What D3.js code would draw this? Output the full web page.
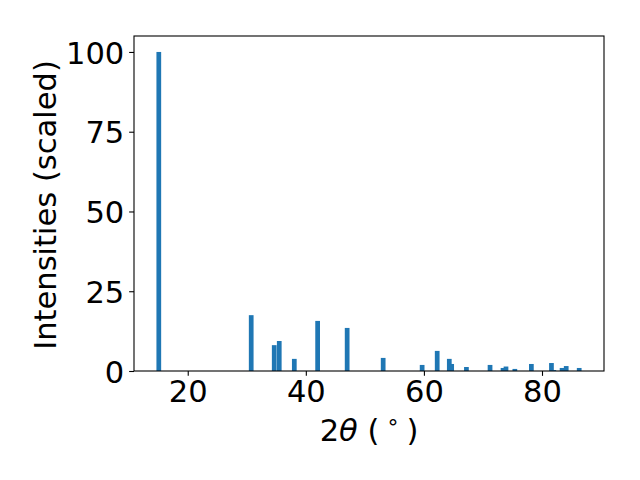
<!DOCTYPE html>
<html>
<head>
<meta charset="utf-8">
<script src="https://cdn.jsdelivr.net/npm/d3@7"></script>
<style>
  html, body { margin: 0; padding: 0; background: #fff; }
  text { font-family: "DejaVu Sans", sans-serif; }
</style>
</head>
<body>
<svg id="chart" width="640" height="480"></svg>
<script>
// Peak positions (2θ, degrees) and scaled intensities
const twoTheta = [15.1, 30.75, 34.65, 35.5, 38.05, 42.0, 47.0, 53.1, 59.7, 62.25, 64.3, 64.7,
                  67.2, 71.2, 73.4, 73.9, 75.4, 78.2, 81.6, 82.0, 83.4, 84.1, 86.3];
const intensity = [100, 17.5, 8.1, 9.4, 3.8, 15.7, 13.5, 4.1, 1.9, 6.3, 3.8, 2.2,
                   1.25, 1.9, 0.95, 1.4, 0.65, 2.2, 2.5, 0.3, 0.95, 1.55, 0.95];
const xTicks = [20, 40, 60, 80];
const yTicks = [0, 25, 50, 75, 100];
const barWidth = 0.8;

const svg = d3.select("#chart");
const mLeft = 134, mRight = 604, mTop = 36, mBottom = 371;

const x = d3.scaleLinear().domain([10.9, 90.5]).range([mLeft, mRight]);
const y = d3.scaleLinear().domain([0, 105]).range([mBottom, mTop]);

const data = twoTheta.map((t, i) => ({ t, v: intensity[i] }));

svg.append("g").selectAll("rect").data(data).join("rect")
  .attr("x", d => x(d.t - barWidth / 2))
  .attr("width", d => x(d.t + barWidth / 2) - x(d.t - barWidth / 2))
  .attr("y", d => y(d.v))
  .attr("height", d => y(0) - y(d.v))
  .attr("fill", "#1f77b4");

const fs = 30.56;
const tickLen = 4.86;

// x axis
const xAxis = svg.append("g").attr("transform", `translate(0,${mBottom})`)
  .call(d3.axisBottom(x).tickValues(xTicks).tickSize(tickLen).tickPadding(4.86).tickFormat(d3.format("d")));
xAxis.select(".domain").remove();
xAxis.selectAll("line").attr("stroke", "#000").attr("stroke-width", 1.1);
xAxis.selectAll("text").attr("font-size", fs).attr("fill", "#000")
  .attr("dy", null).attr("y", 30.5);

// y axis
const yAxis = svg.append("g").attr("transform", `translate(${mLeft},0)`)
  .call(d3.axisLeft(y).tickValues(yTicks).tickSize(tickLen).tickPadding(4.86).tickFormat(d3.format("d")));
yAxis.select(".domain").remove();
yAxis.selectAll("line").attr("stroke", "#000").attr("stroke-width", 1.1);
yAxis.selectAll("text").attr("font-size", fs).attr("fill", "#000")
  .attr("dy", null).attr("y", 11.1);

// frame
svg.append("rect")
  .attr("x", mLeft).attr("y", mTop)
  .attr("width", mRight - mLeft).attr("height", mBottom - mTop)
  .attr("fill", "none").attr("stroke", "#000").attr("stroke-width", 1.1);

// x label
const xl = svg.append("text")
  .attr("x", (mLeft + mRight) / 2).attr("y", 441)
  .attr("text-anchor", "middle").attr("font-size", fs).attr("fill", "#000");
xl.append("tspan").text("2");
xl.append("tspan").attr("font-style", "italic").text("θ");
xl.append("tspan").text(" (");
xl.append("tspan").attr("font-size", fs * 0.7).attr("dy", -12).text(" ∘ ");
xl.append("tspan").attr("dy", 12).text(")");

// y label
svg.append("text")
  .attr("transform", `translate(56,${(mTop + mBottom) / 2 + 1.5}) rotate(-90)`)
  .attr("text-anchor", "middle").attr("font-size", fs).attr("fill", "#000")
  .text("Intensities (scaled)");
</script>
</body>
</html>
